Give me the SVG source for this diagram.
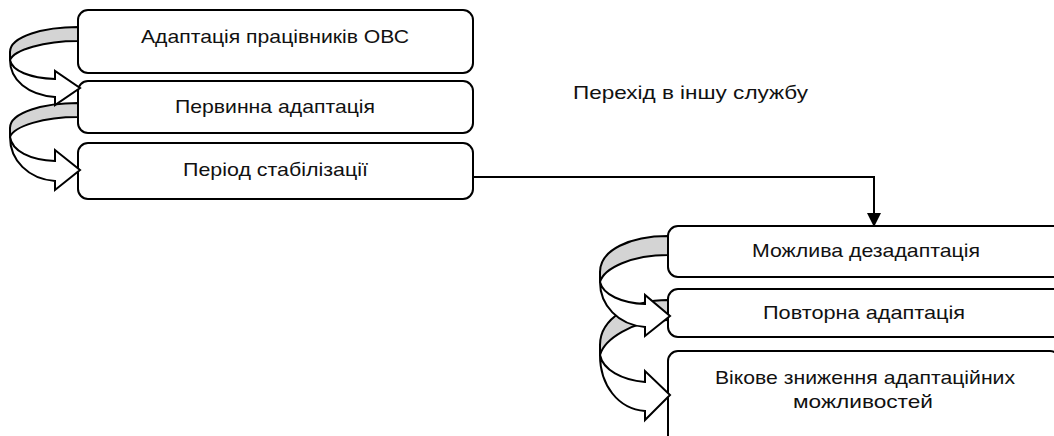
<svg xmlns="http://www.w3.org/2000/svg" width="1054" height="436" viewBox="0 0 1054 436">
<style>
.box{fill:#fff;stroke:#000;stroke-width:2}
.t{font-family:"Liberation Sans",Arial,sans-serif;font-size:19px;fill:#111;text-anchor:middle}
.back{fill:#d4d4d4;stroke:#000;stroke-width:2;stroke-linejoin:round}
.front{fill:#fff;stroke:#000;stroke-width:2;stroke-linejoin:miter}
.line{fill:none;stroke:#000;stroke-width:2}
</style>
<defs>
<marker id="ah" viewBox="0 0 10 10" refX="10" refY="5" markerWidth="7" markerHeight="7" orient="auto" markerUnits="strokeWidth">
<path d="M0,0 L10,5 L0,10 Z" fill="#000"/>
</marker>
</defs>
<rect width="1054" height="436" fill="#fff"/>
<g id="n1"><rect class="box" x="78" y="10" width="395" height="63" rx="10"/><text class="t" x="275" y="43" textLength="268" lengthAdjust="spacingAndGlyphs">Адаптація працівників ОВС</text></g>
<g id="n2"><rect class="box" x="78" y="81" width="395" height="52" rx="10"/><text class="t" x="275" y="113" textLength="200" lengthAdjust="spacingAndGlyphs">Первинна адаптація</text></g>
<g id="n3"><rect class="box" x="78" y="143" width="395" height="56" rx="10"/><text class="t" x="275.5" y="175.5" textLength="185" lengthAdjust="spacingAndGlyphs">Період стабілізації</text></g>
<g id="lbl"><text class="t" x="690.5" y="99" textLength="235" lengthAdjust="spacingAndGlyphs">Перехід в іншу службу</text></g>
<g id="n4"><rect class="box" x="668" y="226" width="400" height="51" rx="10"/><text class="t" x="866" y="257" textLength="228" lengthAdjust="spacingAndGlyphs">Можлива дезадаптація</text></g>
<g id="n5"><rect class="box" x="668" y="289" width="400" height="48" rx="10"/><text class="t" x="864" y="319" textLength="202" lengthAdjust="spacingAndGlyphs">Повторна адаптація</text></g>
<g id="n6"><rect class="box" x="668" y="351" width="392" height="100" rx="10"/><text class="t" x="865" y="384" textLength="300" lengthAdjust="spacingAndGlyphs">Вікове зниження адаптаційних</text><text class="t" x="863" y="408" textLength="140" lengthAdjust="spacingAndGlyphs">можливостей</text></g>
<g id="connectors">
<path class="line" d="M473,177 H874 V227" marker-end="url(#ah)"/>
<g id="a2"><path class="back" d="M78,103 C45,103 10,112 10,128 L10,137 C14,126 44,117 78,117 Z"/><path class="front" d="M10,137 C12,151 30,160 55,161 L55,150 L80,170 L55,190 L55,181 C28,179 10,160 10,137 Z"/></g>
<g id="a1"><path class="back" d="M78,27 C45,27 10,36 10,52 L10,60 C14,50 44,41 78,41 Z"/><path class="front" d="M10,60 C12,71 30,78 55,79 L55,71 L80,88 L55,105 L55,97 C28,95 10,80 10,60 Z"/></g>
<g id="a4"><path class="back" d="M668,300 C632,300 600,318 600,345 L600,355 C604,340 632,320 668,320 Z"/><path class="front" d="M600,355 C603,370 622,380 645,382 L645,371 L670,395 L645,420 L645,411 C618,409 600,385 600,355 Z"/></g>
<g id="a3"><path class="back" d="M668,236 C630,236 600,250 600,272 L600,282 C604,268 632,255 668,255 Z"/><path class="front" d="M600,282 C603,295 622,303 645,304 L645,295 L670,316 L645,336 L645,327 C618,325 600,305 600,282 Z"/></g>
</g>
</svg>
